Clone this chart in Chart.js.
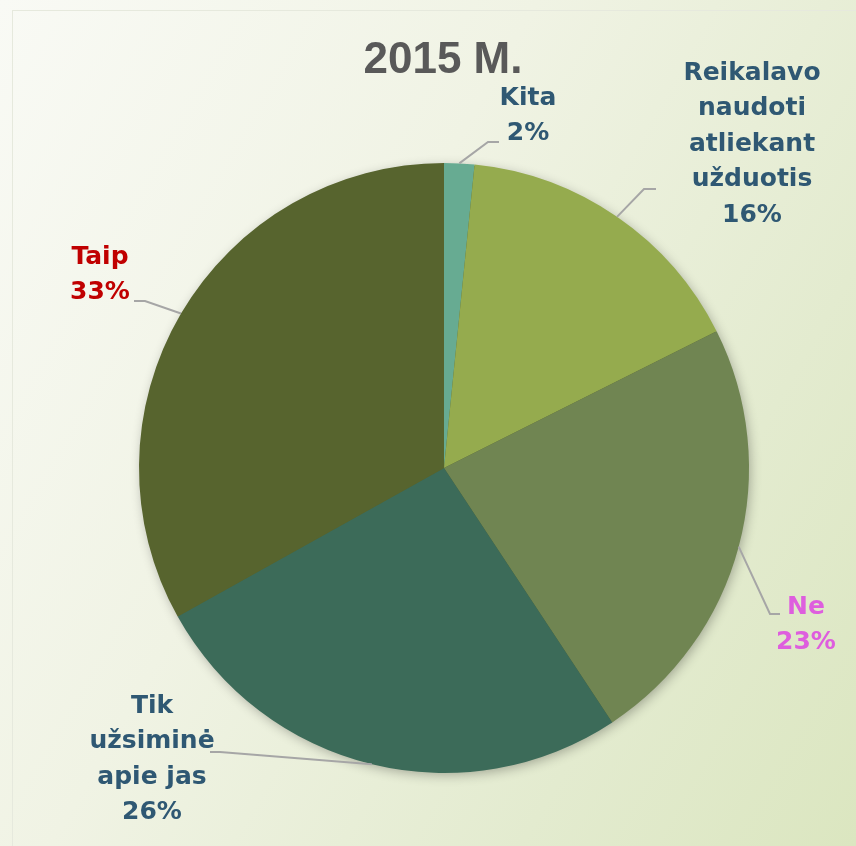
<!DOCTYPE html>
<html>
<head>
<meta charset="utf-8">
<script src="https://cdn.jsdelivr.net/npm/chart.js@4"></script>
<style>
  html, body { margin: 0; padding: 0; }
  body {
    width: 856px; height: 846px; overflow: hidden; position: relative;
    background: linear-gradient(120deg, #f9faf5 0%, #f0f3e4 40%, #e3ebcf 75%, #dbe6c0 100%);
  }
  .frame {
    position: absolute; left: 12px; top: 10px; width: 860px; height: 860px;
    border-left: 1px solid #e6e9dd; border-top: 1px solid #e6e9dd;
  }
  .wrap { position: absolute; left: 0; top: 0; width: 856px; height: 846px; }
</style>
</head>
<body>
<div class="frame"></div>
<div class="wrap"><canvas id="myChart"></canvas></div>
<script>
// duomenys (procentai, etiketėse suapvalinti)
var categories = ['Kita', 'Reikalavo naudoti atliekant užduotis', 'Ne', 'Tik užsiminė apie jas', 'Taip'];
var values = [1.6, 16.0, 23.1, 26.2, 33.1];
var percentLabels = ['2%', '16%', '23%', '26%', '33%'];
var sliceColors = ['#67ab92', '#95ab4e', '#708552', '#3c6b59', '#57642e'];

// etikečių išdėstymas (eilutės, spalva, centras, lūžio taškas, linijos galas)
var labelLayout = [
  { lines: ['Kita'], color: '#2f5873', x: 528, y: 98, elbow: [488, 142], end: [499, 142] },
  { lines: ['Reikalavo', 'naudoti', 'atliekant', 'užduotis'], color: '#2f5873', x: 752, y: 73, elbow: [644, 189], end: [656, 189] },
  { lines: ['Ne'], color: '#de5ede', x: 806, y: 607, elbow: [770, 614], end: [780, 614] },
  { lines: ['Tik', 'užsiminė', 'apie jas'], color: '#2f5873', x: 152, y: 706, elbow: [220, 752], end: [210, 752] },
  { lines: ['Taip'], color: '#c00000', x: 100, y: 257, elbow: [145, 301], end: [134, 301] }
];

var pieLabels = {
  id: 'pieLabels',
  beforeDatasetsDraw: function (chart) {
    var arc = chart.getDatasetMeta(0).data[0];
    if (!arc) return;
    var c = chart.ctx;
    c.save();
    c.shadowColor = 'rgba(0,0,0,0.3)';
    c.shadowBlur = 12;
    c.shadowOffsetX = 2;
    c.shadowOffsetY = 3;
    c.fillStyle = '#57642e';
    c.beginPath();
    c.arc(arc.x, arc.y, arc.outerRadius - 1, 0, Math.PI * 2);
    c.fill();
    c.restore();
  },
  afterDatasetsDraw: function (chart) {
    var c = chart.ctx;
    var arcs = chart.getDatasetMeta(0).data;
    c.save();
    // pavadinimas
    c.fillStyle = '#595959';
    c.font = 'bold 44px "Liberation Sans", Arial, sans-serif';
    c.textAlign = 'center';
    c.textBaseline = 'middle';
    c.fillText('2015 M.', 443, 61);

    arcs.forEach(function (a, i) {
      var L = labelLayout[i];
      var mid = (a.startAngle + a.endAngle) / 2;
      var sx = a.x + Math.cos(mid) * a.outerRadius;
      var sy = a.y + Math.sin(mid) * a.outerRadius;
      c.strokeStyle = '#a6a6a6';
      c.lineWidth = 2;
      c.beginPath();
      c.moveTo(sx, sy);
      c.lineTo(L.elbow[0], L.elbow[1]);
      c.lineTo(L.end[0], L.end[1]);
      c.stroke();

      c.fillStyle = L.color;
      c.font = 'bold 25px "DejaVu Sans", sans-serif';
      var rows = L.lines.concat([percentLabels[i]]);
      rows.forEach(function (t, k) {
        c.fillText(t, L.x, L.y + k * 35.5);
      });
    });
    c.restore();
  }
};

var ctx = document.getElementById('myChart').getContext('2d');
var myChart = new Chart(ctx, {
  type: 'pie',
  data: {
    labels: categories,
    datasets: [{
      data: values,
      backgroundColor: sliceColors,
      borderWidth: 0
    }]
  },
  options: {
    responsive: true,
    maintainAspectRatio: false,
    animation: false,
    layout: { padding: { left: 139, right: 107, top: 163, bottom: 73 } },
    plugins: {
      legend: { display: false },
      tooltip: { enabled: false }
    }
  },
  plugins: [pieLabels]
});
</script>
</body>
</html>
